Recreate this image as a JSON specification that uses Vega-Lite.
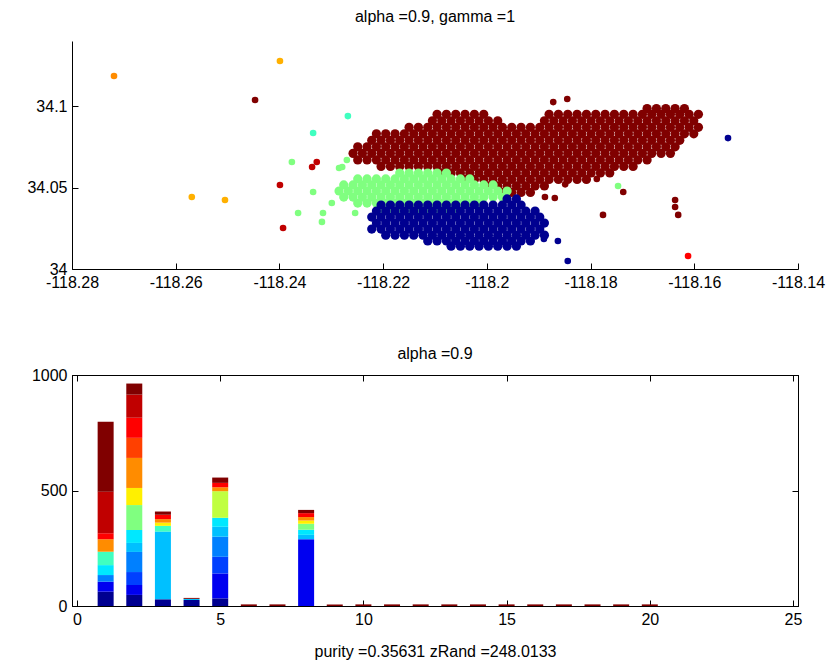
{
"$schema":"https://vega.github.io/schema/vega-lite/v6.json",
"background":"white",
"padding":{"left":26,"top":9,"right":10,"bottom":0},
"spacing":55,
"config":{
 "font":"Liberation Sans",
 "view":{"stroke":"black","strokeWidth":1},
 "axis":{"grid":false,"domainColor":"black","tickColor":"black","labelColor":"black","labelFontSize":16,"labelFont":"Liberation Sans","tickSize":-6,"labelPadding":11,"labelFlush":false,"titleFontWeight":"normal","titleFontSize":16,"titleColor":"black","titleFont":"Liberation Sans","titlePadding":16,"domainWidth":1,"tickWidth":1},
 "title":{"fontSize":16,"fontWeight":"normal","font":"Liberation Sans","color":"black","offset":12,"anchor":"middle"},
 "legend":{"disable":true}
},
"datasets":{
"blob":[
{"x":-118.1691,"y":34.0985,"k":16},{"x":-118.1673,"y":34.0985,"k":16},{"x":-118.1655,"y":34.0985,"k":16},{"x":-118.1637,"y":34.0985,"k":16},{"x":-118.1619,"y":34.0985,"k":16},
{"x":-118.2096,"y":34.095,"k":16},{"x":-118.2078,"y":34.095,"k":16},{"x":-118.2060,"y":34.095,"k":16},{"x":-118.2042,"y":34.095,"k":16},{"x":-118.2024,"y":34.095,"k":16},{"x":-118.2006,"y":34.095,"k":16},
{"x":-118.1880,"y":34.095,"k":16},{"x":-118.1862,"y":34.095,"k":16},{"x":-118.1844,"y":34.095,"k":16},{"x":-118.1826,"y":34.095,"k":16},{"x":-118.1808,"y":34.095,"k":16},{"x":-118.1790,"y":34.095,"k":16},{"x":-118.1772,"y":34.095,"k":16},{"x":-118.1754,"y":34.095,"k":16},{"x":-118.1736,"y":34.095,"k":16},{"x":-118.1718,"y":34.095,"k":16},{"x":-118.1700,"y":34.095,"k":16},{"x":-118.1682,"y":34.095,"k":16},{"x":-118.1664,"y":34.095,"k":16},{"x":-118.1646,"y":34.095,"k":16},{"x":-118.1628,"y":34.095,"k":16},{"x":-118.1610,"y":34.095,"k":16},{"x":-118.1592,"y":34.095,"k":16},
{"x":-118.2105,"y":34.091,"k":16},{"x":-118.2087,"y":34.091,"k":16},{"x":-118.2069,"y":34.091,"k":16},{"x":-118.2051,"y":34.091,"k":16},{"x":-118.2033,"y":34.091,"k":16},{"x":-118.2015,"y":34.091,"k":16},{"x":-118.1997,"y":34.091,"k":16},{"x":-118.1979,"y":34.091,"k":16},
{"x":-118.1889,"y":34.091,"k":16},{"x":-118.1871,"y":34.091,"k":16},{"x":-118.1853,"y":34.091,"k":16},{"x":-118.1835,"y":34.091,"k":16},{"x":-118.1817,"y":34.091,"k":16},{"x":-118.1799,"y":34.091,"k":16},{"x":-118.1781,"y":34.091,"k":16},{"x":-118.1763,"y":34.091,"k":16},{"x":-118.1745,"y":34.091,"k":16},{"x":-118.1727,"y":34.091,"k":16},{"x":-118.1709,"y":34.091,"k":16},{"x":-118.1691,"y":34.091,"k":16},{"x":-118.1673,"y":34.091,"k":16},{"x":-118.1655,"y":34.091,"k":16},{"x":-118.1637,"y":34.091,"k":16},{"x":-118.1619,"y":34.091,"k":16},{"x":-118.1601,"y":34.091,"k":16},
{"x":-118.2150,"y":34.087,"k":16},{"x":-118.2132,"y":34.087,"k":16},{"x":-118.2114,"y":34.087,"k":16},{"x":-118.2096,"y":34.087,"k":16},{"x":-118.2078,"y":34.087,"k":16},{"x":-118.2060,"y":34.087,"k":16},{"x":-118.2042,"y":34.087,"k":16},{"x":-118.2024,"y":34.087,"k":16},{"x":-118.2006,"y":34.087,"k":16},{"x":-118.1988,"y":34.087,"k":16},{"x":-118.1970,"y":34.087,"k":16},{"x":-118.1952,"y":34.087,"k":16},{"x":-118.1934,"y":34.087,"k":16},{"x":-118.1916,"y":34.087,"k":16},{"x":-118.1898,"y":34.087,"k":16},{"x":-118.1880,"y":34.087,"k":16},{"x":-118.1862,"y":34.087,"k":16},{"x":-118.1844,"y":34.087,"k":16},{"x":-118.1826,"y":34.087,"k":16},{"x":-118.1808,"y":34.087,"k":16},{"x":-118.1790,"y":34.087,"k":16},{"x":-118.1772,"y":34.087,"k":16},{"x":-118.1754,"y":34.087,"k":16},{"x":-118.1736,"y":34.087,"k":16},{"x":-118.1718,"y":34.087,"k":16},{"x":-118.1700,"y":34.087,"k":16},{"x":-118.1682,"y":34.087,"k":16},{"x":-118.1664,"y":34.087,"k":16},{"x":-118.1646,"y":34.087,"k":16},{"x":-118.1628,"y":34.087,"k":16},{"x":-118.1610,"y":34.087,"k":16},{"x":-118.1592,"y":34.087,"k":16},
{"x":-118.2213,"y":34.083,"k":16},{"x":-118.2195,"y":34.083,"k":16},{"x":-118.2177,"y":34.083,"k":16},{"x":-118.2159,"y":34.083,"k":16},{"x":-118.2141,"y":34.083,"k":16},{"x":-118.2123,"y":34.083,"k":16},{"x":-118.2105,"y":34.083,"k":16},{"x":-118.2087,"y":34.083,"k":16},{"x":-118.2069,"y":34.083,"k":16},{"x":-118.2051,"y":34.083,"k":16},{"x":-118.2033,"y":34.083,"k":16},{"x":-118.2015,"y":34.083,"k":16},{"x":-118.1997,"y":34.083,"k":16},{"x":-118.1979,"y":34.083,"k":16},{"x":-118.1961,"y":34.083,"k":16},{"x":-118.1943,"y":34.083,"k":16},{"x":-118.1925,"y":34.083,"k":16},{"x":-118.1907,"y":34.083,"k":16},{"x":-118.1889,"y":34.083,"k":16},{"x":-118.1871,"y":34.083,"k":16},{"x":-118.1853,"y":34.083,"k":16},{"x":-118.1835,"y":34.083,"k":16},{"x":-118.1817,"y":34.083,"k":16},{"x":-118.1799,"y":34.083,"k":16},{"x":-118.1781,"y":34.083,"k":16},{"x":-118.1763,"y":34.083,"k":16},{"x":-118.1745,"y":34.083,"k":16},{"x":-118.1727,"y":34.083,"k":16},{"x":-118.1709,"y":34.083,"k":16},{"x":-118.1691,"y":34.083,"k":16},{"x":-118.1673,"y":34.083,"k":16},{"x":-118.1655,"y":34.083,"k":16},{"x":-118.1637,"y":34.083,"k":16},{"x":-118.1619,"y":34.083,"k":16},{"x":-118.1601,"y":34.083,"k":16},
{"x":-118.2222,"y":34.079,"k":16},{"x":-118.2204,"y":34.079,"k":16},{"x":-118.2186,"y":34.079,"k":16},{"x":-118.2168,"y":34.079,"k":16},{"x":-118.2150,"y":34.079,"k":16},{"x":-118.2132,"y":34.079,"k":16},{"x":-118.2114,"y":34.079,"k":16},{"x":-118.2096,"y":34.079,"k":16},{"x":-118.2078,"y":34.079,"k":16},{"x":-118.2060,"y":34.079,"k":16},{"x":-118.2042,"y":34.079,"k":16},{"x":-118.2024,"y":34.079,"k":16},{"x":-118.2006,"y":34.079,"k":16},{"x":-118.1988,"y":34.079,"k":16},{"x":-118.1970,"y":34.079,"k":16},{"x":-118.1952,"y":34.079,"k":16},{"x":-118.1934,"y":34.079,"k":16},{"x":-118.1916,"y":34.079,"k":16},{"x":-118.1898,"y":34.079,"k":16},{"x":-118.1880,"y":34.079,"k":16},{"x":-118.1862,"y":34.079,"k":16},{"x":-118.1844,"y":34.079,"k":16},{"x":-118.1826,"y":34.079,"k":16},{"x":-118.1808,"y":34.079,"k":16},{"x":-118.1790,"y":34.079,"k":16},{"x":-118.1772,"y":34.079,"k":16},{"x":-118.1754,"y":34.079,"k":16},{"x":-118.1736,"y":34.079,"k":16},{"x":-118.1718,"y":34.079,"k":16},{"x":-118.1700,"y":34.079,"k":16},{"x":-118.1682,"y":34.079,"k":16},{"x":-118.1664,"y":34.079,"k":16},{"x":-118.1646,"y":34.079,"k":16},{"x":-118.1628,"y":34.079,"k":16},
{"x":-118.2249,"y":34.075,"k":16},{"x":-118.2231,"y":34.075,"k":16},{"x":-118.2213,"y":34.075,"k":16},{"x":-118.2195,"y":34.075,"k":16},{"x":-118.2177,"y":34.075,"k":16},{"x":-118.2159,"y":34.075,"k":16},{"x":-118.2141,"y":34.075,"k":16},{"x":-118.2123,"y":34.075,"k":16},{"x":-118.2105,"y":34.075,"k":16},{"x":-118.2087,"y":34.075,"k":16},{"x":-118.2069,"y":34.075,"k":16},{"x":-118.2051,"y":34.075,"k":16},{"x":-118.2033,"y":34.075,"k":16},{"x":-118.2015,"y":34.075,"k":16},{"x":-118.1997,"y":34.075,"k":16},{"x":-118.1979,"y":34.075,"k":16},{"x":-118.1961,"y":34.075,"k":16},{"x":-118.1943,"y":34.075,"k":16},{"x":-118.1925,"y":34.075,"k":16},{"x":-118.1907,"y":34.075,"k":16},{"x":-118.1889,"y":34.075,"k":16},{"x":-118.1871,"y":34.075,"k":16},{"x":-118.1853,"y":34.075,"k":16},{"x":-118.1835,"y":34.075,"k":16},{"x":-118.1817,"y":34.075,"k":16},{"x":-118.1799,"y":34.075,"k":16},{"x":-118.1781,"y":34.075,"k":16},{"x":-118.1763,"y":34.075,"k":16},{"x":-118.1745,"y":34.075,"k":16},{"x":-118.1727,"y":34.075,"k":16},{"x":-118.1709,"y":34.075,"k":16},{"x":-118.1691,"y":34.075,"k":16},{"x":-118.1673,"y":34.075,"k":16},{"x":-118.1655,"y":34.075,"k":16},{"x":-118.1637,"y":34.075,"k":16},
{"x":-118.2258,"y":34.071,"k":16},{"x":-118.2240,"y":34.071,"k":16},{"x":-118.2222,"y":34.071,"k":16},{"x":-118.2204,"y":34.071,"k":16},{"x":-118.2186,"y":34.071,"k":16},{"x":-118.2168,"y":34.071,"k":16},{"x":-118.2150,"y":34.071,"k":16},{"x":-118.2132,"y":34.071,"k":16},{"x":-118.2114,"y":34.071,"k":16},{"x":-118.2096,"y":34.071,"k":16},{"x":-118.2078,"y":34.071,"k":16},{"x":-118.2060,"y":34.071,"k":16},{"x":-118.2042,"y":34.071,"k":16},{"x":-118.2024,"y":34.071,"k":16},{"x":-118.2006,"y":34.071,"k":16},{"x":-118.1988,"y":34.071,"k":16},{"x":-118.1970,"y":34.071,"k":16},{"x":-118.1952,"y":34.071,"k":16},{"x":-118.1934,"y":34.071,"k":16},{"x":-118.1916,"y":34.071,"k":16},{"x":-118.1898,"y":34.071,"k":16},{"x":-118.1880,"y":34.071,"k":16},{"x":-118.1862,"y":34.071,"k":16},{"x":-118.1844,"y":34.071,"k":16},{"x":-118.1826,"y":34.071,"k":16},{"x":-118.1808,"y":34.071,"k":16},{"x":-118.1790,"y":34.071,"k":16},{"x":-118.1772,"y":34.071,"k":16},{"x":-118.1754,"y":34.071,"k":16},{"x":-118.1736,"y":34.071,"k":16},{"x":-118.1718,"y":34.071,"k":16},{"x":-118.1700,"y":34.071,"k":16},{"x":-118.1682,"y":34.071,"k":16},{"x":-118.1664,"y":34.071,"k":16},{"x":-118.1646,"y":34.071,"k":16},
{"x":-118.2249,"y":34.067,"k":16},{"x":-118.2231,"y":34.067,"k":16},{"x":-118.2213,"y":34.067,"k":16},{"x":-118.2195,"y":34.067,"k":16},{"x":-118.2177,"y":34.067,"k":16},{"x":-118.2159,"y":34.067,"k":16},{"x":-118.2141,"y":34.067,"k":16},{"x":-118.2123,"y":34.067,"k":16},{"x":-118.2105,"y":34.067,"k":16},{"x":-118.2087,"y":34.067,"k":16},{"x":-118.2069,"y":34.067,"k":16},{"x":-118.2051,"y":34.067,"k":16},{"x":-118.2033,"y":34.067,"k":16},{"x":-118.2015,"y":34.067,"k":16},{"x":-118.1997,"y":34.067,"k":16},{"x":-118.1979,"y":34.067,"k":16},{"x":-118.1961,"y":34.067,"k":16},{"x":-118.1943,"y":34.067,"k":16},{"x":-118.1925,"y":34.067,"k":16},{"x":-118.1907,"y":34.067,"k":16},{"x":-118.1889,"y":34.067,"k":16},{"x":-118.1871,"y":34.067,"k":16},{"x":-118.1853,"y":34.067,"k":16},{"x":-118.1835,"y":34.067,"k":16},{"x":-118.1817,"y":34.067,"k":16},{"x":-118.1799,"y":34.067,"k":16},{"x":-118.1781,"y":34.067,"k":16},{"x":-118.1763,"y":34.067,"k":16},{"x":-118.1745,"y":34.067,"k":16},{"x":-118.1727,"y":34.067,"k":16},{"x":-118.1709,"y":34.067,"k":16},{"x":-118.1691,"y":34.067,"k":16},
{"x":-118.2204,"y":34.063,"k":16},{"x":-118.2186,"y":34.063,"k":16},{"x":-118.2168,"y":34.063,"k":16},{"x":-118.2150,"y":34.063,"k":16},{"x":-118.2132,"y":34.063,"k":16},{"x":-118.2114,"y":34.063,"k":16},{"x":-118.2096,"y":34.063,"k":16},{"x":-118.2078,"y":34.063,"k":16},{"x":-118.2060,"y":34.063,"k":16},{"x":-118.2042,"y":34.063,"k":16},{"x":-118.2024,"y":34.063,"k":16},{"x":-118.2006,"y":34.063,"k":16},{"x":-118.1988,"y":34.063,"k":16},{"x":-118.1970,"y":34.063,"k":16},{"x":-118.1952,"y":34.063,"k":16},{"x":-118.1934,"y":34.063,"k":16},{"x":-118.1916,"y":34.063,"k":16},{"x":-118.1898,"y":34.063,"k":16},{"x":-118.1880,"y":34.063,"k":16},{"x":-118.1862,"y":34.063,"k":16},{"x":-118.1844,"y":34.063,"k":16},{"x":-118.1826,"y":34.063,"k":16},{"x":-118.1808,"y":34.063,"k":16},{"x":-118.1790,"y":34.063,"k":16},{"x":-118.1772,"y":34.063,"k":16},{"x":-118.1754,"y":34.063,"k":16},{"x":-118.1736,"y":34.063,"k":16},{"x":-118.1718,"y":34.063,"k":16},
{"x":-118.2087,"y":34.059,"k":16},{"x":-118.2069,"y":34.059,"k":16},{"x":-118.2051,"y":34.059,"k":16},{"x":-118.2033,"y":34.059,"k":16},{"x":-118.2015,"y":34.059,"k":16},{"x":-118.1997,"y":34.059,"k":16},{"x":-118.1979,"y":34.059,"k":16},{"x":-118.1961,"y":34.059,"k":16},{"x":-118.1943,"y":34.059,"k":16},{"x":-118.1925,"y":34.059,"k":16},{"x":-118.1907,"y":34.059,"k":16},{"x":-118.1889,"y":34.059,"k":16},{"x":-118.1871,"y":34.059,"k":16},{"x":-118.1853,"y":34.059,"k":16},{"x":-118.1835,"y":34.059,"k":16},{"x":-118.1817,"y":34.059,"k":16},{"x":-118.1799,"y":34.059,"k":16},{"x":-118.1781,"y":34.059,"k":16},{"x":-118.1763,"y":34.059,"k":16},
{"x":-118.2042,"y":34.055,"k":16},{"x":-118.2024,"y":34.055,"k":16},{"x":-118.2006,"y":34.055,"k":16},{"x":-118.1988,"y":34.055,"k":16},{"x":-118.1970,"y":34.055,"k":16},{"x":-118.1952,"y":34.055,"k":16},{"x":-118.1934,"y":34.055,"k":16},{"x":-118.1916,"y":34.055,"k":16},{"x":-118.1898,"y":34.055,"k":16},{"x":-118.1880,"y":34.055,"k":16},{"x":-118.1862,"y":34.055,"k":16},{"x":-118.1844,"y":34.055,"k":16},{"x":-118.1826,"y":34.055,"k":16},{"x":-118.1808,"y":34.055,"k":16},
{"x":-118.1997,"y":34.051,"k":16},{"x":-118.1979,"y":34.051,"k":16},{"x":-118.1961,"y":34.051,"k":16},{"x":-118.1943,"y":34.051,"k":16},{"x":-118.1925,"y":34.051,"k":16},{"x":-118.1907,"y":34.051,"k":16},{"x":-118.1889,"y":34.051,"k":16},
{"x":-118.1970,"y":34.047,"k":16},{"x":-118.1952,"y":34.047,"k":16},{"x":-118.1934,"y":34.047,"k":16},{"x":-118.1916,"y":34.047,"k":16},
{"x":-118.2168,"y":34.0589,"k":8},{"x":-118.2150,"y":34.0589,"k":8},{"x":-118.2132,"y":34.0589,"k":8},{"x":-118.2114,"y":34.0589,"k":8},{"x":-118.2096,"y":34.0589,"k":8},{"x":-118.2078,"y":34.0589,"k":8},
{"x":-118.2249,"y":34.0553,"k":8},{"x":-118.2231,"y":34.0553,"k":8},{"x":-118.2213,"y":34.0553,"k":8},{"x":-118.2195,"y":34.0553,"k":8},{"x":-118.2177,"y":34.0553,"k":8},{"x":-118.2159,"y":34.0553,"k":8},{"x":-118.2141,"y":34.0553,"k":8},{"x":-118.2123,"y":34.0553,"k":8},{"x":-118.2105,"y":34.0553,"k":8},{"x":-118.2087,"y":34.0553,"k":8},{"x":-118.2069,"y":34.0553,"k":8},{"x":-118.2051,"y":34.0553,"k":8},{"x":-118.2033,"y":34.0553,"k":8},
{"x":-118.2276,"y":34.0516,"k":8},{"x":-118.2258,"y":34.0516,"k":8},{"x":-118.2240,"y":34.0516,"k":8},{"x":-118.2222,"y":34.0516,"k":8},{"x":-118.2204,"y":34.0516,"k":8},{"x":-118.2186,"y":34.0516,"k":8},{"x":-118.2168,"y":34.0516,"k":8},{"x":-118.2150,"y":34.0516,"k":8},{"x":-118.2132,"y":34.0516,"k":8},{"x":-118.2114,"y":34.0516,"k":8},{"x":-118.2096,"y":34.0516,"k":8},{"x":-118.2078,"y":34.0516,"k":8},{"x":-118.2060,"y":34.0516,"k":8},{"x":-118.2042,"y":34.0516,"k":8},{"x":-118.2024,"y":34.0516,"k":8},{"x":-118.2006,"y":34.0516,"k":8},{"x":-118.1988,"y":34.0516,"k":8},
{"x":-118.2285,"y":34.0479,"k":8},{"x":-118.2267,"y":34.0479,"k":8},{"x":-118.2249,"y":34.0479,"k":8},{"x":-118.2231,"y":34.0479,"k":8},{"x":-118.2213,"y":34.0479,"k":8},{"x":-118.2195,"y":34.0479,"k":8},{"x":-118.2177,"y":34.0479,"k":8},{"x":-118.2159,"y":34.0479,"k":8},{"x":-118.2141,"y":34.0479,"k":8},{"x":-118.2123,"y":34.0479,"k":8},{"x":-118.2105,"y":34.0479,"k":8},{"x":-118.2087,"y":34.0479,"k":8},{"x":-118.2069,"y":34.0479,"k":8},{"x":-118.2051,"y":34.0479,"k":8},{"x":-118.2033,"y":34.0479,"k":8},{"x":-118.2015,"y":34.0479,"k":8},{"x":-118.1997,"y":34.0479,"k":8},{"x":-118.1979,"y":34.0479,"k":8},{"x":-118.1961,"y":34.0479,"k":8},
{"x":-118.2276,"y":34.0442,"k":8},{"x":-118.2258,"y":34.0442,"k":8},{"x":-118.2240,"y":34.0442,"k":8},{"x":-118.2222,"y":34.0442,"k":8},{"x":-118.2204,"y":34.0442,"k":8},{"x":-118.2186,"y":34.0442,"k":8},{"x":-118.2168,"y":34.0442,"k":8},{"x":-118.2150,"y":34.0442,"k":8},{"x":-118.2132,"y":34.0442,"k":8},{"x":-118.2114,"y":34.0442,"k":8},{"x":-118.2096,"y":34.0442,"k":8},{"x":-118.2078,"y":34.0442,"k":8},{"x":-118.2060,"y":34.0442,"k":8},{"x":-118.2042,"y":34.0442,"k":8},{"x":-118.2024,"y":34.0442,"k":8},{"x":-118.2006,"y":34.0442,"k":8},{"x":-118.1988,"y":34.0442,"k":8},{"x":-118.1970,"y":34.0442,"k":8},
{"x":-118.2249,"y":34.0405,"k":8},{"x":-118.2231,"y":34.0405,"k":8},{"x":-118.2213,"y":34.0405,"k":8},{"x":-118.2195,"y":34.0405,"k":8},{"x":-118.2177,"y":34.0405,"k":8},{"x":-118.2159,"y":34.0405,"k":8},{"x":-118.2141,"y":34.0405,"k":8},{"x":-118.2123,"y":34.0405,"k":8},{"x":-118.2105,"y":34.0405,"k":8},{"x":-118.2087,"y":34.0405,"k":8},{"x":-118.2069,"y":34.0405,"k":8},{"x":-118.2051,"y":34.0405,"k":8},{"x":-118.2033,"y":34.0405,"k":8},{"x":-118.2015,"y":34.0405,"k":8},
{"x":-118.2204,"y":34.0372,"k":8},{"x":-118.2186,"y":34.0372,"k":8},{"x":-118.2168,"y":34.0372,"k":8},{"x":-118.2150,"y":34.0372,"k":8},{"x":-118.2132,"y":34.0372,"k":8},{"x":-118.2114,"y":34.0372,"k":8},{"x":-118.2096,"y":34.0372,"k":8},{"x":-118.2078,"y":34.0372,"k":8},{"x":-118.2060,"y":34.0372,"k":8},
{"x":-118.1961,"y":34.043,"k":1},{"x":-118.1943,"y":34.043,"k":1},
{"x":-118.2204,"y":34.0393,"k":1},{"x":-118.2186,"y":34.0393,"k":1},{"x":-118.2168,"y":34.0393,"k":1},{"x":-118.2150,"y":34.0393,"k":1},{"x":-118.2132,"y":34.0393,"k":1},{"x":-118.2114,"y":34.0393,"k":1},{"x":-118.2096,"y":34.0393,"k":1},{"x":-118.2078,"y":34.0393,"k":1},{"x":-118.2060,"y":34.0393,"k":1},{"x":-118.2042,"y":34.0393,"k":1},{"x":-118.2024,"y":34.0393,"k":1},{"x":-118.2006,"y":34.0393,"k":1},{"x":-118.1988,"y":34.0393,"k":1},{"x":-118.1970,"y":34.0393,"k":1},{"x":-118.1952,"y":34.0393,"k":1},{"x":-118.1934,"y":34.0393,"k":1},
{"x":-118.2213,"y":34.0356,"k":1},{"x":-118.2195,"y":34.0356,"k":1},{"x":-118.2177,"y":34.0356,"k":1},{"x":-118.2159,"y":34.0356,"k":1},{"x":-118.2141,"y":34.0356,"k":1},{"x":-118.2123,"y":34.0356,"k":1},{"x":-118.2105,"y":34.0356,"k":1},{"x":-118.2087,"y":34.0356,"k":1},{"x":-118.2069,"y":34.0356,"k":1},{"x":-118.2051,"y":34.0356,"k":1},{"x":-118.2033,"y":34.0356,"k":1},{"x":-118.2015,"y":34.0356,"k":1},{"x":-118.1997,"y":34.0356,"k":1},{"x":-118.1979,"y":34.0356,"k":1},{"x":-118.1961,"y":34.0356,"k":1},{"x":-118.1943,"y":34.0356,"k":1},{"x":-118.1925,"y":34.0356,"k":1},{"x":-118.1907,"y":34.0356,"k":1},
{"x":-118.2222,"y":34.0319,"k":1},{"x":-118.2204,"y":34.0319,"k":1},{"x":-118.2186,"y":34.0319,"k":1},{"x":-118.2168,"y":34.0319,"k":1},{"x":-118.2150,"y":34.0319,"k":1},{"x":-118.2132,"y":34.0319,"k":1},{"x":-118.2114,"y":34.0319,"k":1},{"x":-118.2096,"y":34.0319,"k":1},{"x":-118.2078,"y":34.0319,"k":1},{"x":-118.2060,"y":34.0319,"k":1},{"x":-118.2042,"y":34.0319,"k":1},{"x":-118.2024,"y":34.0319,"k":1},{"x":-118.2006,"y":34.0319,"k":1},{"x":-118.1988,"y":34.0319,"k":1},{"x":-118.1970,"y":34.0319,"k":1},{"x":-118.1952,"y":34.0319,"k":1},{"x":-118.1934,"y":34.0319,"k":1},{"x":-118.1916,"y":34.0319,"k":1},{"x":-118.1898,"y":34.0319,"k":1},
{"x":-118.2213,"y":34.0282,"k":1},{"x":-118.2195,"y":34.0282,"k":1},{"x":-118.2177,"y":34.0282,"k":1},{"x":-118.2159,"y":34.0282,"k":1},{"x":-118.2141,"y":34.0282,"k":1},{"x":-118.2123,"y":34.0282,"k":1},{"x":-118.2105,"y":34.0282,"k":1},{"x":-118.2087,"y":34.0282,"k":1},{"x":-118.2069,"y":34.0282,"k":1},{"x":-118.2051,"y":34.0282,"k":1},{"x":-118.2033,"y":34.0282,"k":1},{"x":-118.2015,"y":34.0282,"k":1},{"x":-118.1997,"y":34.0282,"k":1},{"x":-118.1979,"y":34.0282,"k":1},{"x":-118.1961,"y":34.0282,"k":1},{"x":-118.1943,"y":34.0282,"k":1},{"x":-118.1925,"y":34.0282,"k":1},{"x":-118.1907,"y":34.0282,"k":1},{"x":-118.1889,"y":34.0282,"k":1},
{"x":-118.2222,"y":34.0245,"k":1},{"x":-118.2204,"y":34.0245,"k":1},{"x":-118.2186,"y":34.0245,"k":1},{"x":-118.2168,"y":34.0245,"k":1},{"x":-118.2150,"y":34.0245,"k":1},{"x":-118.2132,"y":34.0245,"k":1},{"x":-118.2114,"y":34.0245,"k":1},{"x":-118.2096,"y":34.0245,"k":1},{"x":-118.2078,"y":34.0245,"k":1},{"x":-118.2060,"y":34.0245,"k":1},{"x":-118.2042,"y":34.0245,"k":1},{"x":-118.2024,"y":34.0245,"k":1},{"x":-118.2006,"y":34.0245,"k":1},{"x":-118.1988,"y":34.0245,"k":1},{"x":-118.1970,"y":34.0245,"k":1},{"x":-118.1952,"y":34.0245,"k":1},{"x":-118.1934,"y":34.0245,"k":1},{"x":-118.1916,"y":34.0245,"k":1},{"x":-118.1898,"y":34.0245,"k":1},
{"x":-118.2195,"y":34.0208,"k":1},{"x":-118.2177,"y":34.0208,"k":1},{"x":-118.2159,"y":34.0208,"k":1},{"x":-118.2141,"y":34.0208,"k":1},{"x":-118.2123,"y":34.0208,"k":1},{"x":-118.2105,"y":34.0208,"k":1},{"x":-118.2087,"y":34.0208,"k":1},{"x":-118.2069,"y":34.0208,"k":1},{"x":-118.2051,"y":34.0208,"k":1},{"x":-118.2033,"y":34.0208,"k":1},{"x":-118.2015,"y":34.0208,"k":1},{"x":-118.1997,"y":34.0208,"k":1},{"x":-118.1979,"y":34.0208,"k":1},{"x":-118.1961,"y":34.0208,"k":1},{"x":-118.1943,"y":34.0208,"k":1},{"x":-118.1925,"y":34.0208,"k":1},{"x":-118.1907,"y":34.0208,"k":1},{"x":-118.1889,"y":34.0208,"k":1},
{"x":-118.2114,"y":34.0172,"k":1},{"x":-118.2096,"y":34.0172,"k":1},{"x":-118.2078,"y":34.0172,"k":1},{"x":-118.2060,"y":34.0172,"k":1},{"x":-118.2042,"y":34.0172,"k":1},{"x":-118.2024,"y":34.0172,"k":1},{"x":-118.2006,"y":34.0172,"k":1},{"x":-118.1988,"y":34.0172,"k":1},{"x":-118.1970,"y":34.0172,"k":1},{"x":-118.1952,"y":34.0172,"k":1},{"x":-118.1934,"y":34.0172,"k":1},{"x":-118.1916,"y":34.0172,"k":1},
{"x":-118.2069,"y":34.014,"k":1},{"x":-118.2051,"y":34.014,"k":1},{"x":-118.2033,"y":34.014,"k":1},{"x":-118.2015,"y":34.014,"k":1},{"x":-118.1997,"y":34.014,"k":1},{"x":-118.1979,"y":34.014,"k":1},{"x":-118.1961,"y":34.014,"k":1},{"x":-118.1943,"y":34.014,"k":1}
],
"out":[
{"x":-118.2447,"y":34.1038,"k":16},{"x":-118.1872,"y":34.1025,"k":16},{"x":-118.1845,"y":34.1044,"k":16},{"x":-118.1807,"y":34.0559,"k":16},{"x":-118.1788,"y":34.0553,"k":16},{"x":-118.1737,"y":34.0473,"k":16},{"x":-118.1776,"y":34.0332,"k":16},{"x":-118.1637,"y":34.0424,"k":16},{"x":-118.1637,"y":34.0381,"k":16},{"x":-118.1631,"y":34.0332,"k":16},{"x":-118.1888,"y":34.0442,"k":16},{"x":-118.1869,"y":34.0436,"k":16},{"x":-118.1849,"y":34.052,"k":16},
{"x":-118.2337,"y":34.0626,"k":15},{"x":-118.2328,"y":34.0657,"k":15},{"x":-118.2399,"y":34.0516,"k":15},{"x":-118.2393,"y":34.0252,"k":15},
{"x":-118.1612,"y":34.008,"k":14},
{"x":-118.2719,"y":34.1185,"k":12},
{"x":-118.2399,"y":34.1277,"k":11},{"x":-118.2569,"y":34.0442,"k":11},{"x":-118.2505,"y":34.0424,"k":11},
{"x":-118.2268,"y":34.0939,"k":7},{"x":-118.2335,"y":34.0835,"k":7},
{"x":-118.2376,"y":34.0657,"k":8},{"x":-118.2285,"y":34.062,"k":8},{"x":-118.227,"y":34.0669,"k":8},{"x":-118.2335,"y":34.0473,"k":8},{"x":-118.2299,"y":34.0405,"k":8},{"x":-118.2364,"y":34.0344,"k":8},{"x":-118.2316,"y":34.0344,"k":8},{"x":-118.2318,"y":34.0289,"k":8},{"x":-118.2254,"y":34.0344,"k":8},{"x":-118.2279,"y":34.0626,"k":8},{"x":-118.1747,"y":34.051,"k":8},
{"x":-118.1535,"y":34.0804,"k":1},{"x":-118.1863,"y":34.0172,"k":1},{"x":-118.1844,"y":34.0049,"k":1},{"x":-118.189,"y":34.0184,"k":1}
],
"bars":[
{"bin":1,"k":1,"n":62},{"bin":1,"k":2,"n":43},{"bin":1,"k":4,"n":29},{"bin":1,"k":6,"n":43},{"bin":1,"k":7,"n":58},{"bin":1,"k":12,"n":54},{"bin":1,"k":14,"n":26},{"bin":1,"k":15,"n":180},{"bin":1,"k":16,"n":303},
{"bin":2,"k":1,"n":48},{"bin":2,"k":2,"n":43},{"bin":2,"k":3,"n":56},{"bin":2,"k":4,"n":87},{"bin":2,"k":5,"n":39},{"bin":2,"k":6,"n":56},{"bin":2,"k":8,"n":108},{"bin":2,"k":10,"n":74},{"bin":2,"k":12,"n":130},{"bin":2,"k":13,"n":87},{"bin":2,"k":14,"n":87},{"bin":2,"k":15,"n":100},{"bin":2,"k":16,"n":48},
{"bin":3,"k":1,"n":29},{"bin":3,"k":5,"n":293},{"bin":3,"k":7,"n":25},{"bin":3,"k":10,"n":14},{"bin":3,"k":12,"n":15},{"bin":3,"k":14,"n":19},{"bin":3,"k":16,"n":14},
{"bin":4,"k":1,"n":26},{"bin":4,"k":5,"n":5},{"bin":4,"k":16,"n":4},
{"bin":5,"k":1,"n":33},{"bin":5,"k":2,"n":108},{"bin":5,"k":3,"n":72},{"bin":5,"k":4,"n":87},{"bin":5,"k":5,"n":43},{"bin":5,"k":6,"n":39},{"bin":5,"k":9,"n":115},{"bin":5,"k":12,"n":17},{"bin":5,"k":14,"n":19},{"bin":5,"k":16,"n":23},
{"bin":6,"k":16,"n":7},{"bin":7,"k":16,"n":7},
{"bin":8,"k":2,"n":289},{"bin":8,"k":5,"n":19},{"bin":8,"k":6,"n":22},{"bin":8,"k":8,"n":26},{"bin":8,"k":10,"n":14},{"bin":8,"k":12,"n":15},{"bin":8,"k":14,"n":17},{"bin":8,"k":16,"n":14},
{"bin":9,"k":16,"n":7},{"bin":10,"k":16,"n":7},{"bin":11,"k":16,"n":7},{"bin":12,"k":16,"n":7},{"bin":13,"k":16,"n":7},{"bin":14,"k":16,"n":7},{"bin":15,"k":16,"n":7},{"bin":16,"k":16,"n":7},{"bin":17,"k":16,"n":7},{"bin":18,"k":16,"n":7},{"bin":19,"k":16,"n":7},{"bin":20,"k":16,"n":7}
]
},
"vconcat":[
{
 "title":{"text":"alpha =0.9, gamma =1","offset":16},
 "width":726,"height":228,
 "view":{"stroke":null},
 "encoding":{
  "x":{"field":"x","type":"quantitative","scale":{"domain":[-118.28,-118.14],"nice":false,"zero":false},
       "axis":{"title":null,"values":[-118.28,-118.26,-118.24,-118.22,-118.2,-118.18,-118.16,-118.14],"labelExpr":"replace(format(datum.value, '.5~r'), '\u2212', '-')"}},
  "y":{"field":"y","type":"quantitative","scale":{"domain":[34,34.14],"nice":false,"zero":false},
       "axis":{"title":null,"values":[34,34.05,34.1],"format":"~g"}},
  "color":{"field":"k","type":"ordinal","scale":{"domain":[1,2,3,4,5,6,7,8,9,10,11,12,13,14,15,16],"range":["#000090","#0000f0","#0040ff","#0080ff","#00c0ff","#00e8ff","#40ffc0","#80ff80","#c0ff40","#fff000","#ffb000","#ff8c00","#ff4000","#ff0000","#c00000","#800000"]},"legend":null}
 },
 "layer":[
  {"data":{"name":"blob"},"mark":{"type":"circle","size":85,"opacity":1}},
  {"data":{"name":"out"},"mark":{"type":"circle","size":44,"opacity":1}}
 ]
},
{
 "title":{"text":"alpha =0.9","offset":5},
 "width":726,"height":231,
 "data":{"name":"bars"},
 "layer":[
  {"mark":{"type":"bar","width":16},
   "encoding":{
    "x":{"field":"bin","type":"quantitative","scale":{"domain":[0,25],"nice":false,"zero":false},
         "axis":{"title":"purity =0.35631 zRand =248.0133","values":[0,5,10,15,20,25]}},
    "y":{"field":"n","type":"quantitative","stack":"zero","scale":{"domain":[0,1000],"nice":false},
         "axis":{"title":null,"values":[0,500,1000],"format":"d"}},
    "color":{"field":"k","type":"ordinal","scale":{"domain":[1,2,3,4,5,6,7,8,9,10,11,12,13,14,15,16],"range":["#000090","#0000f0","#0040ff","#0080ff","#00c0ff","#00e8ff","#40ffc0","#80ff80","#c0ff40","#fff000","#ffb000","#ff8c00","#ff4000","#ff0000","#c00000","#800000"]},"legend":null},
    "order":{"field":"k","type":"quantitative","sort":"ascending"}
   }},
  {"mark":{"type":"bar","width":16,"opacity":0},
   "encoding":{
    "x":{"field":"bin","type":"quantitative","scale":{"domain":[0,25],"nice":false,"zero":false},
         "axis":{"orient":"top","title":null,"labels":false,"values":[0,5,10,15,20,25]}},
    "y":{"field":"n","type":"quantitative","scale":{"domain":[0,1000],"nice":false},
         "axis":{"orient":"right","title":null,"labels":false,"values":[0,500,1000]}}
   }}
 ],
 "resolve":{"axis":{"x":"independent","y":"independent"}}
}
]
}
